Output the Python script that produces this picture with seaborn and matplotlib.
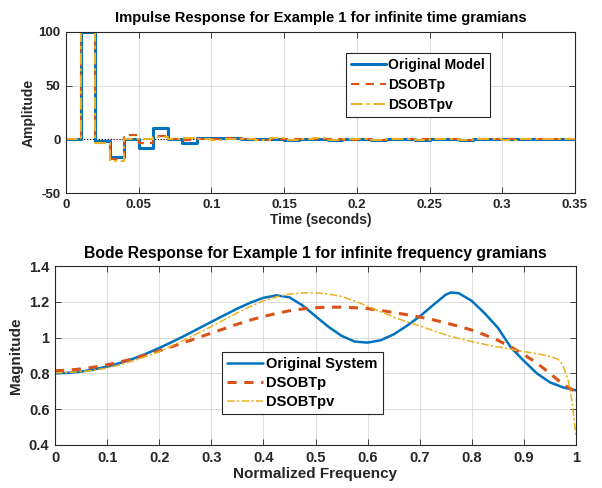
import numpy as np
import pandas as pd
import matplotlib
matplotlib.use("Agg")
import matplotlib.pyplot as plt
import seaborn as sns

# ---------------- data ----------------
t_imp = [round(0.01 * i, 2) for i in range(36)]
imp_orig = [0, 100, -2, -16, 0, -8, 11, 0, -3.5, 1.5, 1.5, 1, 0.5, 0, 0.5, -0.5, 0.3, 0.5,
            -0.3, 0, 0.3, -0.3, 0.2, 0.3, -0.2, 0, 0.2, -0.2, 0.1, 0.2, -0.1, 0, 0.1, -0.1, 0, 0]
imp_p = [0, 100, -3, -18, 4.5, -3, 3.5, 0, -1, 0.5, 0.5, 0.8, 0.3, -0.3, 0.5, 0.5, 0.2, 0.4,
         0.3, -0.2, 0.4, -0.2, 0.3, 0.2, -0.1, 0.3, 0.2, -0.2, 0.2, 0, 0.2, 0, 0.1, -0.1, 0.1, 0]
imp_pv = [0, 100, -3, -20.5, 0, 0, 2, 0, 1, 0, -0.5, 0.5, 0.5, -0.8, 1.5, -0.5, 0.3, 0.8,
          -0.4, 0.2, 0.5, -0.3, 0.3, 0.3, -0.3, 0.2, 0.3, -0.3, 0.2, 0.1, -0.2, 0.2, 0.1, -0.1, 0.1, 0]

f_orig = [0.000, 0.025, 0.050, 0.075, 0.100, 0.125, 0.150, 0.175, 0.200, 0.225, 0.250, 0.275,
          0.300, 0.325, 0.350, 0.375, 0.400, 0.425, 0.450, 0.475, 0.500, 0.525, 0.550, 0.575,
          0.600, 0.625, 0.650, 0.675, 0.700, 0.725, 0.750, 0.760, 0.775, 0.800, 0.825, 0.850,
          0.875, 0.900, 0.925, 0.950, 0.975, 1.000]
mag_orig = [0.800, 0.803, 0.810, 0.822, 0.838, 0.858, 0.882, 0.910, 0.942, 0.976, 1.012, 1.050,
            1.088, 1.125, 1.162, 1.195, 1.222, 1.236, 1.225, 1.180, 1.120, 1.060, 1.010, 0.978,
            0.972, 0.985, 1.018, 1.065, 1.118, 1.180, 1.240, 1.252, 1.248, 1.205, 1.135, 1.055,
            0.945, 0.870, 0.800, 0.750, 0.722, 0.705]

f_p = [0.000, 0.025, 0.050, 0.075, 0.100, 0.125, 0.150, 0.175, 0.200, 0.225, 0.250, 0.275,
       0.300, 0.325, 0.350, 0.375, 0.400, 0.425, 0.450, 0.475, 0.500, 0.525, 0.550, 0.575,
       0.600, 0.625, 0.650, 0.675, 0.700, 0.725, 0.750, 0.775, 0.800, 0.825, 0.850, 0.875,
       0.900, 0.925, 0.950, 0.975, 1.000]
mag_p = [0.815, 0.818, 0.825, 0.835, 0.848, 0.864, 0.882, 0.903, 0.926, 0.950, 0.975, 1.000,
         1.025, 1.050, 1.075, 1.098, 1.118, 1.135, 1.150, 1.160, 1.167, 1.170, 1.170, 1.167,
         1.162, 1.152, 1.140, 1.128, 1.115, 1.100, 1.082, 1.063, 1.042, 1.015, 0.985, 0.948,
         0.905, 0.858, 0.800, 0.740, 0.695]

f_pv = [0.000, 0.025, 0.050, 0.075, 0.100, 0.125, 0.150, 0.175, 0.200, 0.225, 0.250, 0.275,
        0.300, 0.325, 0.350, 0.375, 0.400, 0.425, 0.450, 0.475, 0.500, 0.525, 0.550, 0.575,
        0.600, 0.625, 0.650, 0.675, 0.700, 0.725, 0.750, 0.775, 0.800, 0.825, 0.850, 0.875,
        0.900, 0.925, 0.950, 0.965, 0.975, 0.985, 0.992, 1.000]
mag_pv = [0.803, 0.805, 0.810, 0.818, 0.830, 0.848, 0.870, 0.895, 0.922, 0.955, 0.990, 1.025,
          1.062, 1.100, 1.138, 1.175, 1.205, 1.228, 1.243, 1.250, 1.250, 1.243, 1.230, 1.205,
          1.175, 1.145, 1.115, 1.088, 1.065, 1.040, 1.015, 0.995, 0.978, 0.962, 0.948, 0.935,
          0.922, 0.910, 0.895, 0.880, 0.845, 0.760, 0.650, 0.450]

top_labels = ["Original Model", "DSOBTp", "DSOBTpv"]
bot_labels = ["Original System", "DSOBTp", "DSOBTpv"]
colors = ["#0072BD", "#D95319", "#EDB120"]

# ---------------- style ----------------
sns.set_theme(style="whitegrid")
plt.rcParams["font.family"] = ["Liberation Sans", "DejaVu Sans"]
plt.rcParams["font.weight"] = "bold"
TXT = "#262626"

fig = plt.figure(figsize=(6.02, 4.88), dpi=100)
ax1 = fig.add_axes([66 / 602, 1 - 193 / 488, (575 - 66) / 602, (193 - 32) / 488])
ax2 = fig.add_axes([55 / 602, 1 - 445 / 488, (576 - 55) / 602, (445 - 266) / 488])


def style_axes(ax):
    ax.set_facecolor("white")
    for s in ax.spines.values():
        s.set_color("#262626")
        s.set_linewidth(0.8)
        s.set_visible(True)
    ax.grid(True, color="#dcdcdc", linewidth=0.7)
    ax.tick_params(direction="in", length=4, width=0.6, color="#262626",
                   top=True, right=True, bottom=True, left=True,
                   labelsize=9.5, labelcolor=TXT, pad=4)
    for lab in ax.get_xticklabels() + ax.get_yticklabels():
        lab.set_fontweight("bold")


# ---------------- top: impulse ----------------
ax1.axhline(0, color="black", linestyle=":", linewidth=0.8, zorder=1)
sns.lineplot(x=t_imp, y=imp_orig, ax=ax1, color=colors[0], linewidth=2.2,
             drawstyle="steps-post", label=top_labels[0])
sns.lineplot(x=t_imp, y=imp_p, ax=ax1, color=colors[1], linewidth=1.5,
             linestyle=(0, (4, 3)), drawstyle="steps-post", label=top_labels[1])
sns.lineplot(x=t_imp, y=imp_pv, ax=ax1, color=colors[2], linewidth=1.4,
             linestyle=(0, (6, 2, 1.5, 2)), drawstyle="steps-post", label=top_labels[2])
ax1.set_xlim(0, 0.35)
ax1.set_ylim(-50, 100)
ax1.set_xticks([0, 0.05, 0.1, 0.15, 0.2, 0.25, 0.3, 0.35])
ax1.set_xticklabels(["0", "0.05", "0.1", "0.15", "0.2", "0.25", "0.3", "0.35"])
ax1.set_yticks([-50, 0, 50, 100])
ax1.set_yticklabels(["-50", "0", "50", "100"])
style_axes(ax1)
ax1.set_title("Impulse Response for Example 1 for infinite time gramians",
              fontsize=10.6, fontweight="bold", color="black", pad=7)
ax1.set_xlabel("Time (seconds)", fontsize=10, fontweight="bold", color=TXT, labelpad=2)
ax1.set_ylabel("Amplitude", fontsize=10, fontweight="bold", color=TXT, labelpad=2)
leg1 = ax1.legend(loc="upper left", bbox_to_anchor=(0.55, 0.87), frameon=True,
                  fancybox=False, edgecolor="#262626", framealpha=1, fontsize=10,
                  handlelength=2.5, handletextpad=0.2, borderpad=0.35, labelspacing=0.45,
                  borderaxespad=0)
leg1.get_frame().set_linewidth(0.8)
for txt in leg1.get_texts():
    txt.set_fontweight("bold")
    txt.set_color("black")

# ---------------- bottom: bode ----------------
sns.lineplot(x=f_orig, y=mag_orig, ax=ax2, color=colors[0], linewidth=1.8,
             label=bot_labels[0])
sns.lineplot(x=f_p, y=mag_p, ax=ax2, color=colors[1], linewidth=2.2,
             linestyle=(0, (3, 2.5)), label=bot_labels[1])
sns.lineplot(x=f_pv, y=mag_pv, ax=ax2, color=colors[2], linewidth=1.1,
             linestyle=(0, (5, 1.5, 1.5, 1.5)), label=bot_labels[2])
ax2.set_xlim(0, 1)
ax2.set_ylim(0.4, 1.4)
xt = [0, 0.1, 0.2, 0.3, 0.4, 0.5, 0.6, 0.7, 0.8, 0.9, 1]
ax2.set_xticks(xt)
ax2.set_xticklabels(["0", "0.1", "0.2", "0.3", "0.4", "0.5", "0.6", "0.7", "0.8", "0.9", "1"])
yt = [0.4, 0.6, 0.8, 1.0, 1.2, 1.4]
ax2.set_yticks(yt)
ax2.set_yticklabels(["0.4", "0.6", "0.8", "1", "1.2", "1.4"])
style_axes(ax2)
ax2.tick_params(labelsize=10.5)
ax2.set_title("Bode Response for Example 1 for infinite frequency gramians",
              fontsize=11.3, fontweight="bold", color="black", pad=6)
ax2.set_xlabel("Normalized Frequency", fontsize=11, fontweight="bold", color=TXT, labelpad=2)
ax2.set_ylabel("Magnitude", fontsize=11, fontweight="bold", color=TXT, labelpad=4)
leg2 = ax2.legend(loc="upper left", bbox_to_anchor=(0.32, 0.52), frameon=True,
                  fancybox=False, edgecolor="#262626", framealpha=1, fontsize=10.5,
                  handlelength=2.5, handletextpad=0.2, borderpad=0.35, labelspacing=0.33,
                  borderaxespad=0)
leg2.get_frame().set_linewidth(0.8)
for txt in leg2.get_texts():
    txt.set_fontweight("bold")
    txt.set_color("black")

fig.savefig("out.png", dpi=100)
